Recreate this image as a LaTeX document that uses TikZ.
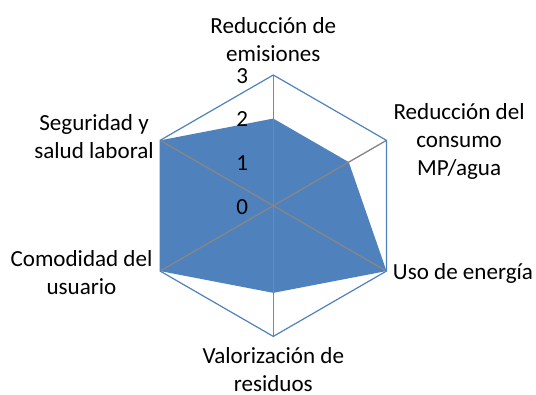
\documentclass[tikz,border=0pt]{standalone}
\usepackage{fontspec}
\setmainfont{Carlito}
\definecolor{serieblue}{HTML}{4F81BD}
\definecolor{axisgray}{HTML}{868686}
\tikzset{
  axislabel/.style={font=\fontsize{17.3}{21}\selectfont, align=center, inner sep=0pt},
  ticklabel/.style={font=\fontsize{17.3}{21}\selectfont, inner sep=0pt, anchor=base east},
}

\begin{document}
\begin{tikzpicture}[x=0.75pt,y=0.75pt]
  \useasboundingbox (-273.3,-188.3) rectangle (262.7,205.7);
  \coordinate (o) at (0,0);
  % outer ring, value 3
  \foreach \i/\a in {1/90,2/30,3/-30,4/-90,5/-150,6/150}
    \coordinate (v\i) at (\a:130.7);
  % series values
  \foreach \i/\a/\v in {1/90/2,2/30/2,3/-30/3,4/-90/2,5/-150/3,6/150/3}
    \coordinate (p\i) at (\a:\v*43.57);
  \fill[serieblue] (p1) -- (p2) -- (p3) -- (p4) -- (p5) -- (p6) -- cycle;
  \foreach \i in {1,...,6}
    \draw[axisgray, line width=1pt] (o) -- (v\i);
  \draw[serieblue, line width=0.9pt] (v1) -- (v2) -- (v3) -- (v4) -- (v5) -- (v6) -- cycle;
  % scale
  \foreach \n in {0,...,3}
    \node[ticklabel] (tick\n) at (-25,\n*43.57-8.3) {\n};
  % axis names (base = last line)
  \node[axislabel, anchor=base] (emis) at (0,144) {Reducción de\\emisiones};
  \node[axislabel, anchor=base west] (cons) at (120,30.7) {Reducción del\\consumo\\MP/agua};
  \node[axislabel, anchor=base west] (ener) at (119.4,-73.6) {Uso de energía};
  \node[axislabel, anchor=base] (resi) at (0,-185.5) {Valorización de\\residuos};
  \node[axislabel, anchor=base east] (usua) at (-120.6,-88.6) {Comodidad del\\usuario};
  \node[axislabel, anchor=base east] (segu) at (-119.3,47.4) {Seguridad y\\salud laboral};
\end{tikzpicture}
\end{document}
